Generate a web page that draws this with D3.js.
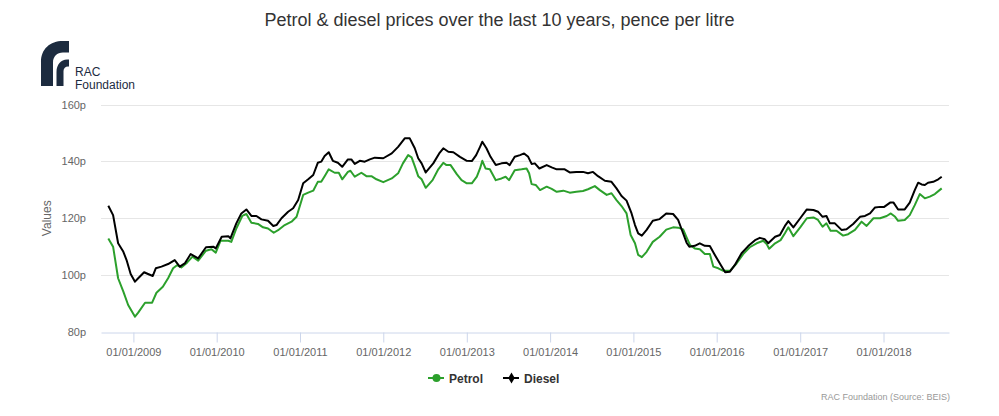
<!DOCTYPE html>
<html>
<head>
<meta charset="utf-8">
<script src="https://cdn.jsdelivr.net/npm/d3@7"></script>
<style>
  body { margin: 0; background: #fff; }
  svg { font-family: Arial, "Liberation Sans", sans-serif; }
</style>
</head>
<body>
<div id="chart"></div>
<script>
// weekly pump prices (pence per litre)
var petrolDates = ["2008-09-13","2008-10-04","2008-10-26","2008-11-18","2008-12-09","2009-01-08","2009-01-22",
  "2009-02-21","2009-03-24","2009-04-12","2009-05-10","2009-06-02","2009-06-24","2009-07-11","2009-07-30",
  "2009-08-24","2009-09-17","2009-10-12","2009-11-15","2009-12-09","2009-12-28","2010-01-18","2010-02-21",
  "2010-03-06","2010-03-28","2010-04-23","2010-05-11","2010-06-02","2010-07-01","2010-07-23","2010-08-14",
  "2010-09-08","2010-09-27","2010-10-26","2010-11-25","2010-12-17","2011-01-15","2011-02-06","2011-02-28",
  "2011-03-20","2011-04-04","2011-04-19","2011-05-07","2011-06-02","2011-06-20","2011-07-05","2011-07-30",
  "2011-08-10","2011-08-29","2011-09-27","2011-10-19","2011-11-10","2011-12-02","2012-01-01","2012-02-07",
  "2012-03-06","2012-03-27","2012-04-19","2012-05-04","2012-05-18","2012-06-02","2012-06-17","2012-07-05",
  "2012-08-04","2012-08-29","2012-09-20","2012-10-04","2012-10-22","2012-11-18","2012-12-09","2013-01-01",
  "2013-01-23","2013-02-14","2013-02-28","2013-03-10","2013-03-24","2013-04-12","2013-05-08","2013-06-02",
  "2013-06-20","2013-07-05","2013-07-30","2013-08-29","2013-09-20","2013-10-01","2013-10-12","2013-10-30",
  "2013-11-18","2013-12-17","2014-01-08","2014-01-30","2014-02-28","2014-03-28","2014-04-26","2014-05-25",
  "2014-06-16","2014-07-16","2014-08-07","2014-09-06","2014-09-27","2014-10-19","2014-11-10","2014-12-02",
  "2014-12-20","2015-01-08","2015-01-22","2015-02-07","2015-02-28","2015-03-27","2015-04-26","2015-05-25",
  "2015-06-24","2015-07-16","2015-08-07","2015-08-22","2015-09-06","2015-09-27","2015-10-19","2015-11-10",
  "2015-12-02","2015-12-17","2016-01-08","2016-01-30","2016-02-28","2016-03-28","2016-04-26","2016-05-25",
  "2016-06-24","2016-07-23","2016-08-07","2016-08-18","2016-09-13","2016-10-07","2016-10-26","2016-11-10",
  "2016-12-02","2017-01-01","2017-01-30","2017-02-28","2017-03-20","2017-04-09","2017-04-26","2017-05-14",
  "2017-06-09","2017-07-08","2017-07-30","2017-08-29","2017-09-27","2017-10-19","2017-11-18","2017-12-17",
  "2018-01-15","2018-02-02","2018-02-21","2018-03-06","2018-04-04","2018-04-26","2018-05-18","2018-06-09",
  "2018-07-01","2018-07-23","2018-08-14","2018-09-13"];
var petrolValues = [112.9,110.0,98.9,94.2,89.5,85.4,86.8,
  90.3,90.3,93.8,95.9,98.9,102.4,103.5,102.7,
  104.4,106.5,105.1,108.6,109.1,107.9,112.1,112.1,
  111.7,116.4,120.8,121.5,118.4,118.0,116.8,116.4,
  114.9,115.8,117.6,118.8,120.5,128.2,129.0,129.7,
  132.8,132.8,134.8,137.2,136.0,136.0,133.7,136.3,
  136.7,134.6,136.0,134.8,134.8,133.7,132.7,134.0,
  135.8,139.3,142.2,141.4,138.3,134.8,133.7,130.7,
  133.4,137.2,139.5,138.7,138.7,135.5,133.4,132.3,
  132.3,134.6,137.5,140.2,137.5,137.2,133.4,134.0,
  134.6,133.4,136.9,137.2,137.5,135.8,132.0,131.7,
  129.9,131.1,130.3,129.3,129.7,129.0,129.3,129.6,
  130.2,131.3,129.9,128.2,128.8,126.4,124.3,121.7,
  114.1,111.2,107.1,106.3,108.2,111.7,113.5,116.0,
  116.8,116.7,116.1,113.3,110.6,109.4,109.1,107.4,
  107.4,103.0,102.4,101.5,101.5,104.1,107.4,109.8,
  111.2,112.1,110.9,109.3,111.2,112.3,114.7,116.8,
  113.7,116.8,120.0,120.3,119.4,117.0,118.2,115.6,
  115.6,113.9,114.4,115.9,118.8,117.3,120.0,120.0,
  120.8,121.7,120.5,119.1,119.4,121.1,124.6,128.5,
  127.0,127.6,128.5,130.5];

var dieselDates = ["2008-09-13","2008-10-04","2008-10-26","2008-11-18","2008-12-02","2008-12-20","2009-01-08",
  "2009-01-22","2009-02-17","2009-03-06","2009-03-27","2009-04-09","2009-05-04","2009-06-02","2009-07-01",
  "2009-07-23","2009-08-14","2009-09-09","2009-10-12","2009-11-15","2009-12-17","2009-12-28","2010-01-23",
  "2010-02-21","2010-03-02","2010-03-28","2010-04-19","2010-05-11","2010-06-02","2010-06-24","2010-07-16",
  "2010-08-14","2010-09-06","2010-09-20","2010-10-12","2010-11-10","2010-12-02","2010-12-24","2011-01-15",
  "2011-02-06","2011-02-28","2011-03-20","2011-04-04","2011-04-19","2011-05-07","2011-05-25","2011-06-16",
  "2011-07-05","2011-07-30","2011-08-14","2011-08-29","2011-09-20","2011-10-12","2011-11-03","2011-11-25",
  "2012-01-01","2012-02-07","2012-03-06","2012-04-04","2012-04-26","2012-05-18","2012-06-02","2012-06-17",
  "2012-07-05","2012-08-07","2012-09-02","2012-09-20","2012-10-12","2012-11-03","2012-12-02","2013-01-01",
  "2013-01-23","2013-02-11","2013-02-28","2013-03-10","2013-03-28","2013-04-15","2013-05-08","2013-06-02",
  "2013-06-24","2013-07-08","2013-07-30","2013-08-22","2013-09-09","2013-09-27","2013-10-12","2013-10-26",
  "2013-11-15","2013-12-17","2014-01-08","2014-01-30","2014-03-06","2014-03-28","2014-04-26","2014-05-25",
  "2014-06-16","2014-07-08","2014-07-30","2014-08-29","2014-09-27","2014-10-19","2014-11-10","2014-12-02",
  "2014-12-24","2015-01-08","2015-01-22","2015-02-07","2015-02-28","2015-03-27","2015-04-26","2015-05-25",
  "2015-06-24","2015-07-16","2015-07-30","2015-08-22","2015-09-03","2015-09-27","2015-10-19","2015-11-10",
  "2015-12-02","2015-12-24","2016-01-15","2016-02-07","2016-02-28","2016-03-20","2016-04-19","2016-05-18",
  "2016-06-17","2016-07-08","2016-07-30","2016-08-14","2016-09-13","2016-10-04","2016-10-26","2016-11-10",
  "2016-12-02","2017-01-01","2017-01-30","2017-02-28","2017-03-20","2017-04-09","2017-04-26","2017-05-11",
  "2017-06-02","2017-07-01","2017-07-23","2017-08-21","2017-09-20","2017-10-12","2017-11-03","2017-11-25",
  "2017-12-17","2018-01-04","2018-01-30","2018-02-14","2018-03-06","2018-04-04","2018-04-26","2018-05-18",
  "2018-06-02","2018-06-17","2018-07-01","2018-07-15","2018-08-07","2018-08-29","2018-09-13"];
var dieselValues = [124.4,121.1,111.2,108.2,105.3,100.4,97.7,
  98.9,101.0,100.4,99.7,102.4,103.0,103.9,105.3,
  103.0,104.1,107.4,105.9,109.8,110.0,109.4,113.5,
  113.7,112.9,118.2,121.7,123.1,120.8,120.8,119.6,
  119.1,117.3,117.6,120.0,122.3,123.5,126.4,132.3,
  133.7,135.2,139.5,139.9,141.9,143.2,140.2,139.5,
  138.1,140.7,140.7,139.1,140.2,139.9,140.7,141.3,
  141.1,142.8,145.1,148.1,148.1,144.6,141.1,139.3,
  136.1,139.3,142.8,144.6,143.4,143.2,141.6,140.2,
  140.1,142.2,145.1,146.9,144.6,141.6,138.7,139.3,
  139.5,138.7,141.6,142.2,142.8,141.6,139.1,139.3,
  137.5,138.7,137.9,137.2,137.2,136.1,136.3,136.3,
  135.8,136.3,134.8,133.2,132.8,130.5,127.8,126.2,
  121.7,117.6,114.7,113.9,115.9,119.1,119.7,121.7,
  121.5,119.4,116.4,111.4,110.0,110.3,111.2,110.3,
  110.2,107.1,104.1,101.0,101.2,103.5,107.7,110.2,
  112.3,113.1,112.6,111.2,113.5,114.1,117.3,119.0,
  116.8,120.0,123.1,122.9,122.3,120.5,120.8,118.2,
  118.2,115.9,116.1,118.0,120.5,120.8,121.7,123.8,
  124.0,124.0,125.5,125.5,123.1,123.1,125.5,129.9,
  132.5,131.9,131.7,132.5,132.8,133.7,134.6];

var yTicks = [80, 100, 120, 140, 160];
var xTicks = ["2009-01-01","2010-01-01","2011-01-01","2012-01-01","2013-01-01",
  "2014-01-01","2015-01-01","2016-01-01","2017-01-01","2018-01-01"];
var xRange = ["2008-08-12", "2018-10-15"];

var W = 999, H = 416;
var plot = {left: 101, right: 949, top: 104.5, bottom: 332};
var green = "#2ca02c", navy = "#1c2b3f";

var parse = d3.timeParse("%Y-%m-%d");
var fmt = d3.timeFormat("%d/%m/%Y");

var petrol = petrolDates.map(function(d, i) { return {date: parse(d), value: petrolValues[i]}; });
var diesel = dieselDates.map(function(d, i) { return {date: parse(d), value: dieselValues[i]}; });

var svg = d3.select("#chart")
  .append("svg")
  .attr("width", W)
  .attr("height", H);

var x = d3.scaleTime()
  .domain(xRange.map(parse))
  .range([plot.left, plot.right]);

var y = d3.scaleLinear()
  .domain([80, 160])
  .range([plot.bottom, plot.top]);

// title
svg.append("text")
  .attr("x", W / 2)
  .attr("y", 26)
  .attr("text-anchor", "middle")
  .style("font-size", "18px")
  .style("fill", "#333333")
  .text("Petrol & diesel prices over the last 10 years, pence per litre");

// logo
var logo = svg.append("g");
logo.append("path")
  .attr("d", "M41,86 L41,62 C41,49 50,41 63,41 L69,41 L69,52.5 L63,52.5 C57,52.5 53,56.5 53,62.5 L53,86 Z")
  .attr("fill", navy);
logo.append("path")
  .attr("d", "M56.5,86 L56.5,72 C56.5,64.5 61,59.5 67,59.5 L69,59.5 L69,66.5 L68,66.5 C65.5,66.5 63.5,68.5 63.5,71 L63.5,86 Z")
  .attr("fill", navy);
logo.append("text").attr("x", 75).attr("y", 76).style("font-size", "12px").style("fill", navy).text("RAC");
logo.append("text").attr("x", 75).attr("y", 88.5).style("font-size", "12px").style("fill", navy).text("Foundation");

// gridlines
svg.append("g")
  .selectAll("line")
  .data(yTicks.slice(1))
  .enter()
  .append("line")
    .attr("x1", plot.left)
    .attr("x2", plot.right)
    .attr("y1", function(d) { return Math.round(y(d)) + 0.5; })
    .attr("y2", function(d) { return Math.round(y(d)) + 0.5; })
    .attr("stroke", "#e6e6e6");

// y axis labels
var yAxis = svg.append("g")
  .attr("transform", "translate(" + plot.left + ",0)")
  .call(d3.axisLeft(y).tickValues(yTicks).tickSize(0).tickPadding(15).tickFormat(function(d) { return d + "p"; }))
  .attr("font-family", null)
  .attr("font-size", null);
yAxis.select(".domain").remove();
yAxis.selectAll("text").style("font-size", "11px").style("fill", "#666666");

svg.append("text")
  .attr("transform", "translate(51," + ((plot.top + plot.bottom) / 2) + ") rotate(-90)")
  .attr("text-anchor", "middle")
  .style("font-size", "12px")
  .style("fill", "#666666")
  .text("Values");

// x axis
var xAxis = svg.append("g")
  .attr("transform", "translate(0," + (Math.round(plot.bottom) + 0.5) + ")")
  .call(d3.axisBottom(x).tickValues(xTicks.map(parse)).tickSize(10).tickSizeOuter(0).tickPadding(6).tickFormat(fmt))
  .attr("font-family", null)
  .attr("font-size", null);
xAxis.select(".domain").attr("stroke", "#ccd6eb");
xAxis.selectAll(".tick line").attr("stroke", "#ccd6eb");
xAxis.selectAll("text").style("font-size", "11px").style("fill", "#666666");

// lines
var line = d3.line()
  .x(function(d) { return x(d.date); })
  .y(function(d) { return y(d.value); });

svg.append("path")
  .datum(petrol)
  .attr("d", line)
  .attr("fill", "none")
  .attr("stroke", green)
  .attr("stroke-width", 2)
  .attr("stroke-linejoin", "round");

svg.append("path")
  .datum(diesel)
  .attr("d", line)
  .attr("fill", "none")
  .attr("stroke", "#000000")
  .attr("stroke-width", 2)
  .attr("stroke-linejoin", "round");

// legend
var legend = [
  {name: "Petrol", color: green, x: 428, shape: d3.symbolCircle},
  {name: "Diesel", color: "#000000", x: 503, shape: d3.symbolDiamond}
];
var lg = svg.append("g")
  .selectAll("g")
  .data(legend)
  .enter()
  .append("g")
    .attr("transform", function(d) { return "translate(" + d.x + ",378)"; });
lg.append("line")
  .attr("x1", 0).attr("x2", 16)
  .attr("stroke", function(d) { return d.color; })
  .attr("stroke-width", 2);
lg.append("path")
  .attr("transform", "translate(8.5,0)")
  .attr("d", function(d) { return d3.symbol().type(d.shape).size(d.shape === d3.symbolCircle ? 50 : 36)(); })
  .attr("fill", function(d) { return d.color; });
lg.append("text")
  .attr("x", 21)
  .attr("y", 4.5)
  .style("font-size", "12px")
  .style("font-weight", "bold")
  .style("fill", "#333333")
  .text(function(d) { return d.name; });

// credits
svg.append("text")
  .attr("x", 950)
  .attr("y", 400)
  .attr("text-anchor", "end")
  .style("font-size", "9px")
  .style("fill", "#999999")
  .text("RAC Foundation (Source: BEIS)");
</script>
</body>
</html>
